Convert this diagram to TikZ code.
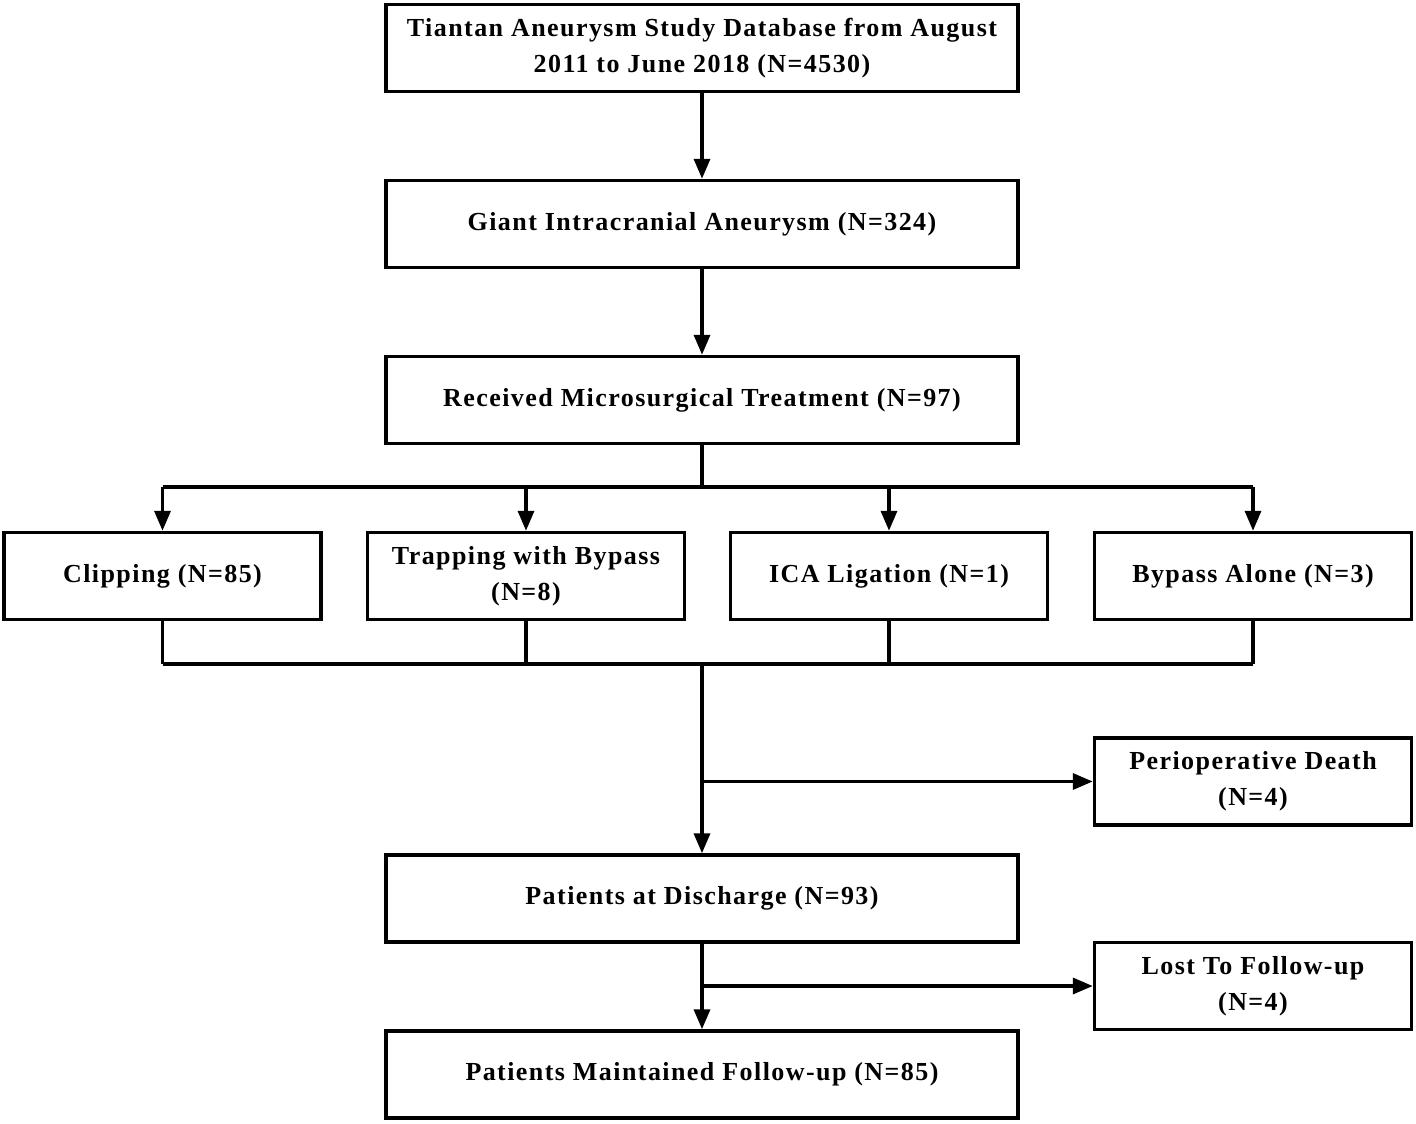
\documentclass[tikz,border=0pt]{standalone}
\usepackage{fontspec}
\setmainfont{Liberation Serif}[LetterSpace=5.5]
\usetikzlibrary{arrows.meta}
\begin{document}
\begin{tikzpicture}[x=1pt,y=-1pt,
  box/.style={draw=black,line width=3.5pt,fill=white,minimum height=87pt,inner sep=0pt,
    font=\fontsize{26}{36}\selectfont\bfseries,align=center},
  wide/.style={box,minimum width=632pt},
  small/.style={box,minimum width=317pt},
  line/.style={line width=3.5pt},
  arr/.style={line width=3.5pt,-{Triangle[width=16pt,length=20pt]}}]
\useasboundingbox (0,0) rectangle (1416,1124);
\node[wide] (db) at (702,48) {Tiantan Aneurysm Study Database from August\\2011 to June 2018 (N=4530)};
\node[wide] (gia) at (702,224) {Giant Intracranial Aneurysm (N=324)};
\node[wide] (mst) at (702,400) {Received Microsurgical Treatment (N=97)};
\node[small] (clip) at (162.5,576) {Clipping (N=85)};
\node[small] (trap) at (526,576) {Trapping with Bypass\\(N=8)};
\node[small] (ica) at (889,576) {ICA Ligation (N=1)};
\node[small] (byp) at (1253,576) {Bypass Alone (N=3)};
\node[small] (death) at (1253,781.5) {Perioperative Death\\(N=4)};
\node[wide] (dis) at (702,898.5) {Patients at Discharge (N=93)};
\node[small] (lost) at (1253,986) {Lost To Follow-up\\(N=4)};
\node[wide] (fu) at (702,1074.5) {Patients Maintained Follow-up (N=85)};
\coordinate (split) at (702,487);
\coordinate (merge) at (702,664);
\coordinate (b1) at (702,781.5);
\coordinate (b2) at (702,986);
\draw[arr] (db) -- (gia);
\draw[arr] (gia) -- (mst);
\draw[line] (mst.south) -- (split);
\draw[line] (clip.north |- split) -- (byp.north |- split);
\foreach \n in {clip,trap,ica,byp} {
  \draw[arr] (\n.north |- split) -- (\n.north);
  \draw[line] (\n.south) -- (\n.south |- merge);
}
\draw[line] (clip.south |- merge) -- (byp.south |- merge);
\draw[arr] (merge) -- (dis.north);
\draw[arr] (b1) -- (death.west);
\draw[arr] (dis.south) -- (fu.north);
\draw[arr] (b2) -- (lost.west);
\end{tikzpicture}
\end{document}
